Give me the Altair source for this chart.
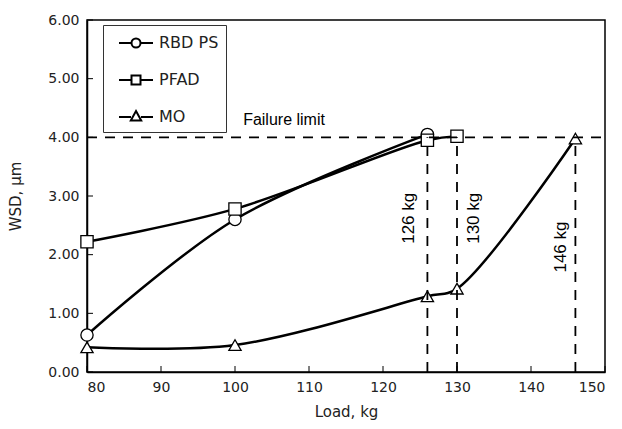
import altair as alt
import pandas as pd

# ---- data ----
rbd_x = [80, 100, 126]
rbd_y = [0.63, 2.60, 4.05]
pfad_x = [80, 100, 126, 130]
pfad_y = [2.22, 2.78, 3.95, 4.02]
mo_x = [80, 100, 126, 130, 146]
mo_y = [0.42, 0.46, 1.29, 1.42, 3.98]
series_names = ["RBD PS", "PFAD", "MO"]

failure_limit = 4.0
limit_loads = [126, 130, 146]
limit_labels = ["126 kg", "130 kg", "146 kg"]
label_x = [123.5, 132.3, 144.1]
label_y = [2.62, 2.62, 2.13]

x_ticks = [80, 90, 100, 110, 120, 130, 140, 150]
y_ticks = [0, 1, 2, 3, 4, 5, 6]

rows = []
for name, xs, ys in zip(series_names, [rbd_x, pfad_x, mo_x], [rbd_y, pfad_y, mo_y]):
    for a, b in zip(xs, ys):
        rows.append({"series": name, "load": a, "wsd": b})
df = pd.DataFrame(rows)

W, H = 518, 352
TICK_FONT = "DejaVu Sans"
ARIAL = "Liberation Sans"

xs = alt.Scale(domain=[80, 150], nice=False)
ys = alt.Scale(domain=[0, 6], nice=False)

x_enc = alt.X("load:Q", scale=xs, title="Load, kg",
              axis=alt.Axis(values=x_ticks, tickSize=0, labelPadding=8, grid=False,
                            domainColor="black", domainWidth=1.5,
                            labelFont=TICK_FONT, labelFontSize=14, labelColor="#222",
                            titleFont=TICK_FONT, titleFontSize=15, titleFontWeight="normal",
                            titleColor="#222", titlePadding=10))
y_enc = alt.Y("wsd:Q", scale=ys, title="WSD, µm",
              axis=alt.Axis(values=y_ticks, format=".2f", tickSize=0, labelPadding=8, grid=False,
                            domainColor="black", domainWidth=1.5,
                            labelFont=TICK_FONT, labelFontSize=14, labelColor="#222",
                            titleFont=TICK_FONT, titleFontSize=15, titleFontWeight="normal",
                            titleColor="#222", titlePadding=24))

shape_domain = series_names

lines = alt.Chart(df).mark_line(color="black", strokeWidth=2.5, interpolate="catmull-rom").encode(
    x=x_enc, y=y_enc, detail="series:N"
)

markers = alt.Chart(df).mark_point(filled=True, fill="white", stroke="black", strokeWidth=1.3,
                                   size=150, opacity=1).encode(
    x="load:Q", y="wsd:Q",
    shape=alt.Shape("series:N", scale=alt.Scale(domain=shape_domain,
                                                range=["circle", "square", "triangle-up"]),
                    legend=None)
)

legend_paths = [
    "M-1.7,0H-0.45M0.45,0H1.7M-0.45,0A0.45,0.45 0 1,0 0.45,0A0.45,0.45 0 1,0 -0.45,0Z",
    "M-1.7,0H-0.45M0.45,0H1.7M-0.45,-0.45H0.45V0.45H-0.45Z",
    "M-1.7,0H-0.5M0.5,0H1.7M0,-0.6L0.52,0.35H-0.52Z",
]

legend_layer = alt.Chart(df).transform_filter("datum.load < 0").mark_point(
    filled=False, color="black", strokeWidth=2, size=400, opacity=1
).encode(
    x="load:Q", y="wsd:Q",
    shape=alt.Shape("series:N", scale=alt.Scale(domain=shape_domain, range=legend_paths),
                    legend=alt.Legend(orient="none", legendX=16, legendY=5, title=None,
                                      strokeColor="#333", padding=7, symbolOffset=15,
                                      symbolSize=400, symbolStrokeWidth=2,
                                      symbolStrokeColor="black",
                                      labelFont=TICK_FONT, labelFontSize=16, labelColor="#222",
                                      labelOffset=12, rowPadding=17))
)

hline_df = pd.DataFrame({"x": [80], "x2": [150], "y": [failure_limit]})
hline = alt.Chart(hline_df).mark_rule(color="black", strokeWidth=1.8, strokeDash=[10, 8]).encode(
    x="x:Q", x2="x2:Q", y="y:Q"
)
vline_df = pd.DataFrame({"x": limit_loads, "y": [0] * len(limit_loads), "y2": [failure_limit] * len(limit_loads)})
vlines = alt.Chart(vline_df).mark_rule(color="black", strokeWidth=1.8, strokeDash=[10, 8]).encode(
    x="x:Q", y="y:Q", y2="y2:Q"
)

lbl_df = pd.DataFrame({"x": label_x, "y": label_y, "t": limit_labels})
labels = alt.Chart(lbl_df).mark_text(angle=270, font=ARIAL, fontSize=17, color="black",
                                     align="center", baseline="middle").encode(
    x="x:Q", y="y:Q", text="t:N"
)

fl_df = pd.DataFrame({"x": [101.1], "y": [4.29], "t": ["Failure limit"]})
fl_text = alt.Chart(fl_df).mark_text(font=ARIAL, fontSize=16, color="black",
                                     align="left", baseline="middle").encode(
    x="x:Q", y="y:Q", text="t:N"
)

xt_df = pd.DataFrame({"x": x_ticks})
xt = alt.Chart(xt_df).mark_rule(color="black", strokeWidth=1).encode(
    x="x:Q", y=alt.value(H), y2=alt.value(H - 6)
)
yt_df = pd.DataFrame({"y": y_ticks})
yt = alt.Chart(yt_df).mark_rule(color="black", strokeWidth=1).encode(
    y="y:Q", x=alt.value(0), x2=alt.value(6)
)

chart = alt.layer(lines, markers, hline, vlines, labels, fl_text, xt, yt, legend_layer).resolve_scale(
    shape="independent"
).properties(
    width=W, height=H,
    autosize=alt.AutoSizeParams(type="none"),
    padding={"left": 79, "top": 12, "right": 9, "bottom": 49},
    background="white",
).configure_view(stroke="black", strokeWidth=1.5)

chart.save("out.html", embed_options={"renderer": "svg", "actions": False})
